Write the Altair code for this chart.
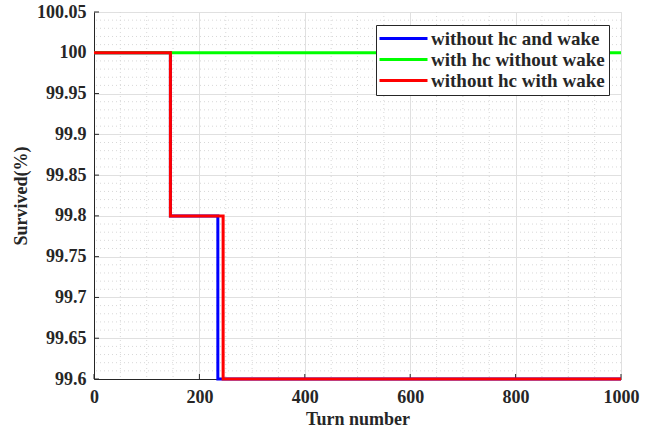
import altair as alt
import pandas as pd

# ---- data ----
series = ["without hc and wake", "with hc without wake", "without hc with wake"]
colors = ["#0000ff", "#00ff00", "#ff0000"]

turn_blue = [0, 145, 235, 1000]
surv_blue = [100.0, 99.8, 99.6, 99.6]
turn_green = [0, 1000]
surv_green = [100.0, 100.0]
turn_red = [0, 145, 245, 1000]
surv_red = [100.0, 99.8, 99.6, 99.6]

x_ticks = [0, 200, 400, 600, 800, 1000]
y_ticks = [99.6, 99.65, 99.7, 99.75, 99.8, 99.85, 99.9, 99.95, 100.0, 100.05]
x_minor = [v for v in range(50, 1000, 50) if v % 200 != 0]
y_minor = [round(99.6 + 0.01 * i, 2) for i in range(1, 45) if i % 5 != 0]

W, H = 527, 367
FONT = "Liberation Serif"

xs = alt.Scale(domain=[0, 1000], nice=False)
ys = alt.Scale(domain=[99.6, 100.05], nice=False, zero=False)
cs = alt.Scale(domain=series, range=colors)

AX = alt.Axis(
    values=x_ticks, title="Turn number", format="d", grid=True, gridColor="#e0e0e0",
    domainColor="#262626", ticks=False, labelFont=FONT, labelFontWeight="bold",
    labelFontSize=18, labelColor="#262626", labelPadding=9, titleFont=FONT,
    titleFontWeight="bold", titleFontSize=18, titleColor="#262626", titlePadding=4,
    labelFlush=False)
AY = alt.Axis(
    values=y_ticks, title="Survived(%)", format=".2~f", grid=True, gridColor="#e0e0e0",
    domainColor="#262626", ticks=False, labelFont=FONT, labelFontWeight="bold",
    labelFontSize=18, labelColor="#262626", labelPadding=8, titleFont=FONT,
    titleFontWeight="bold", titleFontSize=18, titleColor="#262626", titlePadding=6,
    labelFlush=False)

def line_df(t, s, name):
    return pd.DataFrame({"turn": t, "surv": s, "series": name})

df_blue = line_df(turn_blue, surv_blue, series[0])
df_green = line_df(turn_green, surv_green, series[1])
df_red = line_df(turn_red, surv_red, series[2])

xminor = alt.Chart(pd.DataFrame({"v": x_minor})).mark_rule(
    color="#d8d8d8", strokeDash=[1, 3], strokeWidth=1
).encode(x=alt.X("v:Q", scale=xs, axis=AX))
yminor = alt.Chart(pd.DataFrame({"v": y_minor})).mark_rule(
    color="#d8d8d8", strokeDash=[1, 3], strokeWidth=1
).encode(y=alt.Y("v:Q", scale=ys, axis=AY))

xtick_marks = alt.Chart(pd.DataFrame({"v": x_ticks})).mark_rule(color="#262626").encode(
    x=alt.X("v:Q", scale=xs, axis=AX), y=alt.value(H), y2=alt.value(H - 5))
ytick_marks = alt.Chart(pd.DataFrame({"v": y_ticks})).mark_rule(color="#262626").encode(
    y=alt.Y("v:Q", scale=ys, axis=AY), x=alt.value(0), x2=alt.value(5))

legend = alt.Legend(
    title=None, orient="none", legendX=282, legendY=13,
    strokeColor="#262626", fillColor="white", padding=4,
    symbolType="M-3,0H3", symbolSize=256, symbolStrokeWidth=3, symbolOffset=14,
    labelOffset=18, labelFont=FONT, labelFontWeight="bold", labelFontSize=19,
    labelColor="#262626", rowPadding=1, labelLimit=400,
)

def line_layer(df):
    return alt.Chart(df).mark_line(interpolate="step-after", strokeWidth=3).encode(
        x=alt.X("turn:Q", scale=xs, axis=AX),
        y=alt.Y("surv:Q", scale=ys, axis=AY),
        color=alt.Color("series:N", scale=cs, legend=legend),
    )

chart = alt.layer(
    xminor, yminor, xtick_marks, ytick_marks,
    line_layer(df_blue), line_layer(df_green), line_layer(df_red),
).properties(
    width=W, height=H, autosize=alt.AutoSizeParams(type="none"),
    padding={"left": 94, "top": 12, "right": 28, "bottom": 53},
).configure_view(stroke=None).configure(background="white")

chart.save("out.html", embed_options={"renderer": "svg", "actions": False})
